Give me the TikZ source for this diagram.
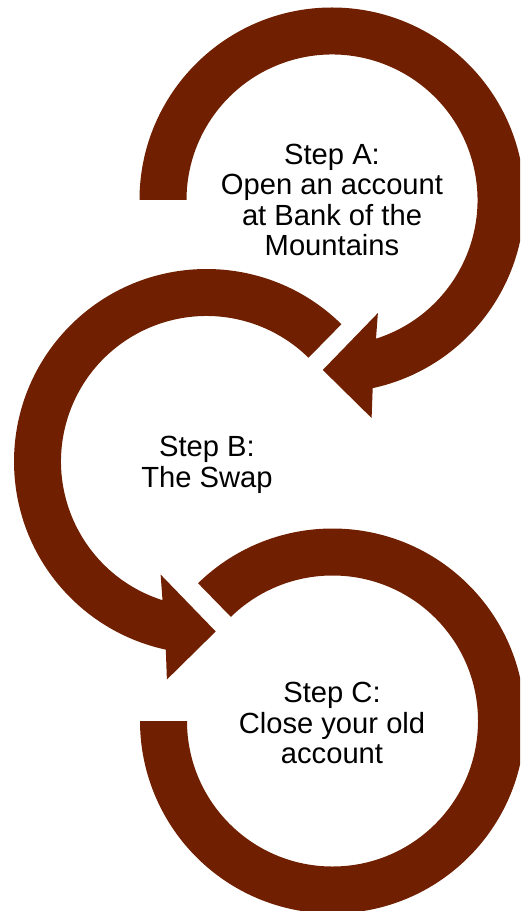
\documentclass[tikz,border=0pt]{standalone}
\usepackage{fontspec}
\setmainfont{Liberation Sans}
\usepackage{tikz}
\usepackage{xcolor}
\definecolor{rust}{RGB}{112,32,0}

\begin{document}
\begin{tikzpicture}[x=0.02cm,y=-0.02cm,
  steptext/.style={align=center,font=\fontsize{16.6}{17.3}\selectfont}]
 \pgfmathsetmacro{\rin}{145.5}
 \pgfmathsetmacro{\rout}{192.5}
 \useasboundingbox (0,0) rectangle (520,911);
 \clip (0,0) rectangle (520,911);

 \begin{scope}[shift={(332,200)}]
  \fill[rust] (180:\rout) arc (180:437.8:\rout) -- (79.7:221.6) -- (93.1:170.2)
     -- (67.9:122) -- (72.4:\rin) arc (432.4:180:\rin) -- cycle;
 \end{scope}
 \begin{scope}[shift={(206.5,461.5)},xscale=-1]
  \fill[rust] (225.5:\rout) arc (225.5:437.8:\rout) -- (79.7:221.6) -- (93.1:170.2)
     -- (67.9:122) -- (72.4:\rin) arc (432.4:225.5:\rin) -- cycle;
 \end{scope}
 \begin{scope}[shift={(332.5,721)}]
  \fill[rust] (-134.3:\rout) arc (-134.3:180:\rout) -- (180:\rin)
     arc (180:-134.3:\rin) -- cycle;
 \end{scope}

 \node[steptext] (stepA) at (332,200) {Step A:\\Open an account\\at Bank of the\\Mountains};
 \node[steptext] (stepB) at (207,465) {Step B:\\The Swap};
 \node[steptext] (stepC) at (332,723) {Step C:\\Close your old\\account};
\end{tikzpicture}
\end{document}
